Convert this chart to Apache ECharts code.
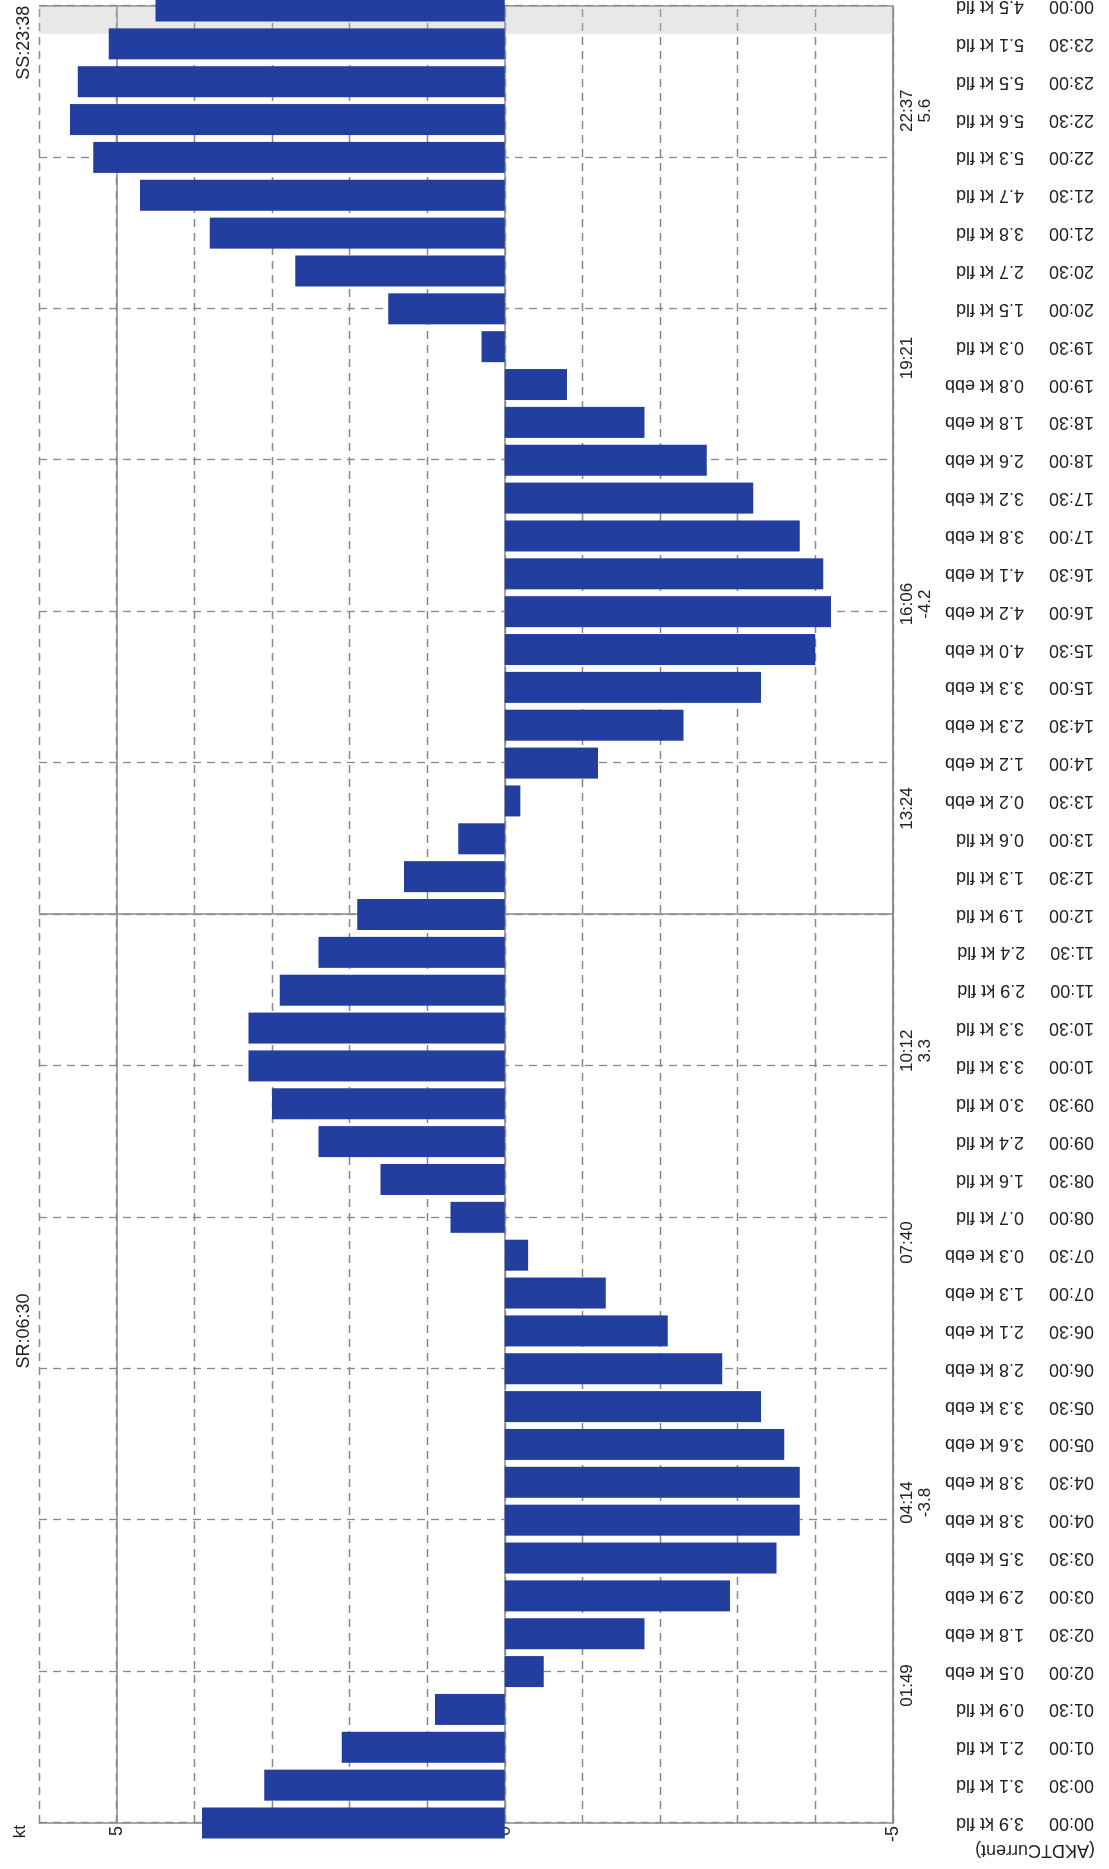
<!DOCTYPE html>
<html>
<head>
<meta charset="utf-8">
<script src="https://cdn.jsdelivr.net/npm/echarts@6/dist/echarts.min.js"></script>
<style>
html,body{margin:0;padding:0;width:1109px;height:1869px;overflow:hidden;background:#fff;}
#wrap{position:absolute;left:0;top:0;width:1869px;height:1109px;transform-origin:0 0;transform:translateY(1869px) rotate(-90deg);}
#chart{width:1869px;height:1109px;}
</style>
</head>
<body>
<div id="wrap"><div id="chart"></div></div>
<script>
// ---- data ----
const times = ['00:00','00:30','01:00','01:30','02:00','02:30','03:00','03:30','04:00','04:30',
  '05:00','05:30','06:00','06:30','07:00','07:30','08:00','08:30','09:00','09:30',
  '10:00','10:30','11:00','11:30','12:00','12:30','13:00','13:30','14:00','14:30',
  '15:00','15:30','16:00','16:30','17:00','17:30','18:00','18:30','19:00','19:30',
  '20:00','20:30','21:00','21:30','22:00','22:30','23:00','23:30','00:00'];
// current speed in kt, flood positive, ebb negative
const speeds = [3.9,3.1,2.1,0.9,-0.5,-1.8,-2.9,-3.5,-3.8,-3.8,
  -3.6,-3.3,-2.8,-2.1,-1.3,-0.3,0.7,1.6,2.4,3.0,
  3.3,3.3,2.9,2.4,1.9,1.3,0.6,-0.2,-1.2,-2.3,
  -3.3,-4.0,-4.2,-4.1,-3.8,-3.2,-2.6,-1.8,-0.8,0.3,
  1.5,2.7,3.8,4.7,5.3,5.6,5.5,5.1,4.5];
const eventTimes = ['01:49','04:14','07:40','10:12','13:24','16:06','19:21','22:37'];
const eventValues = [null,-3.8,null,3.3,null,-4.2,null,5.6];
const sunriseLabel = 'SR:06:30', sunriseTime = '06:30';
const sunsetLabel = 'SS:23:38', sunsetTime = '23:38';
const valueTickLabels = [5, 0, -5];
const unitName = 'kt';
const stationCaption = '(AKDTCurrent)';
const floodWord = 'fld', ebbWord = 'ebb';

// ---- helpers ----
function toHours(s){ const p = s.split(':').map(Number); return p[0] + p[1]/60; }
const hours = times.map((t,i) => { let h = toHours(t); if (i === times.length-1 && h === 0) h = 24; return h; });
const eventHours = eventTimes.map(toHours);
const srHour = toHours(sunriseTime), ssHour = toHours(sunsetTime);
function idxOf(arr, v){ let b=-1, d=1e9; arr.forEach((h,i)=>{ const dd=Math.abs(h-v); if(dd<d){d=dd;b=i;} }); return d<1e-6 ? b : -1; }

const FONT = '"Liberation Sans", Arial, Helvetica, sans-serif';
const GRID_COLOR = '#888888';
const TEXT = '#222';

const chart = echarts.init(document.getElementById('chart'), null, {renderer:'canvas'});
const hidden = {axisLine:{show:false,onZero:false}, axisTick:{show:false}, axisLabel:{show:false}, splitLine:{show:false}};

const option = {
  animation:false,
  backgroundColor:'#ffffff',
  grid:{left:46, right:6, top:39, bottom:216, outerBoundsMode:'none'},
  graphic:[{type:'text', x:19, y:1095, rotation:Math.PI/2, silent:true,
    style:{text:stationCaption, fontSize:18, fontFamily:FONT, fill:TEXT, align:'left', verticalAlign:'middle'}}],
  xAxis:[
    { // half-hour labels
      type:'value', min:0, max:24, interval:0.5, position:'bottom',
      axisLine:{show:true, onZero:false, lineStyle:{color:GRID_COLOR, width:1.5}},
      axisTick:{show:false}, splitLine:{show:false},
      axisLabel:{rotate:90, align:'left', margin:201, fontSize:18, color:TEXT, fontFamily:FONT,
        showMinLabel:true, showMaxLabel:true,
        formatter:function(v){ const i = idxOf(hours, v); if(i<0) return '';
          const s = speeds[i]; return times[i] + '     ' + Math.abs(s).toFixed(1) + ' kt ' + (s >= 0 ? floodWord : ebbWord); } }
    },
    Object.assign({}, hidden, { // 2-hour dashed grid
      type:'value', min:0, max:24, interval:2, position:'bottom',
      splitLine:{show:true, lineStyle:{type:[8,6], color:GRID_COLOR, width:1.3}}
    }),
    Object.assign({}, hidden, { // solid noon line / right border
      type:'value', min:0, max:24, interval:12, position:'bottom',
      splitLine:{show:true, showMinLine:false, lineStyle:{type:'solid', color:GRID_COLOR, width:1.5}}
    }),
    Object.assign({}, hidden, { // event labels (slack / max current)
      type:'value', min:0, max:24, position:'bottom',
      axisLabel:{show:true, customValues:eventHours, margin:5, fontSize:17, lineHeight:18, color:TEXT, fontFamily:FONT, align:'center',
        formatter:function(v){ const i = idxOf(eventHours, v); if(i<0) return '';
          return eventValues[i] == null ? eventTimes[i] : eventTimes[i] + '\n' + eventValues[i].toFixed(1); } }
    }),
    Object.assign({}, hidden, { // sunrise
      type:'value', min:0, max:24, position:'top',
      axisLabel:{show:true, customValues:[srHour], margin:6, fontSize:18, color:TEXT, fontFamily:FONT,
        formatter:function(){ return sunriseLabel; } }
    }),
    Object.assign({}, hidden, { // sunset
      type:'value', min:0, max:24, position:'top',
      axisLabel:{show:true, customValues:[ssHour], margin:6, fontSize:18, color:TEXT, fontFamily:FONT, padding:[0,18,0,0],
        formatter:function(){ return sunsetLabel; } }
    })
  ],
  yAxis:[
    {
      type:'value', min:-5, max:6, interval:1, position:'left',
      name:unitName, nameLocation:'end', nameGap:10,
      nameTextStyle:{fontSize:17, color:TEXT, fontFamily:FONT, align:'right', padding:[0,2,0,0]},
      axisLine:{show:true, onZero:false, lineStyle:{color:GRID_COLOR, width:1.5}},
      axisTick:{show:false},
      axisLabel:{margin:3, fontSize:18, color:TEXT, fontFamily:FONT,
        formatter:function(v){ return valueTickLabels.indexOf(v) >= 0 ? String(v) : ''; } },
      splitLine:{show:true, lineStyle:{type:[8,6], color:GRID_COLOR, width:1.3}}
    },
    Object.assign({}, hidden, {
      type:'value', min:-5, max:6, interval:5, position:'left',
      splitLine:{show:true, showMaxLine:false, lineStyle:{type:'solid', color:GRID_COLOR, width:1.5}}
    })
  ],
  series:[{
    type:'bar', xAxisIndex:0, yAxisIndex:0, barWidth:31, clip:true,
    itemStyle:{color:'#223e9f'},
    data: hours.map((h,i)=>[h, speeds[i]]),
    markArea:{silent:true, itemStyle:{color:'rgba(190,190,190,0.35)'},
      data:[[{xAxis:ssHour},{xAxis:24}]]}
  }]
};
chart.setOption(option);
</script>
</body>
</html>
